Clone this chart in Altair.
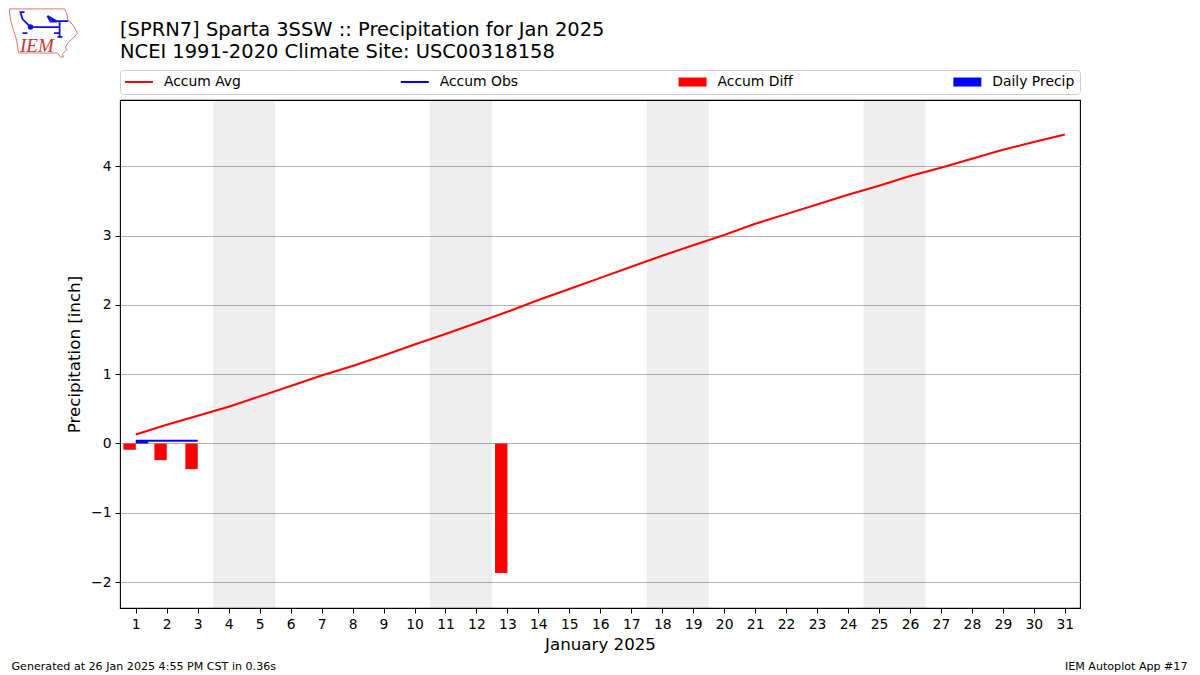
import altair as alt
import pandas as pd

FONT = "DejaVu Sans"
TITLE = ["[SPRN7] Sparta 3SSW :: Precipitation for Jan 2025", "NCEI 1991-2020 Climate Site: USC00318158"]
FOOT_LEFT = ["Generated at 26 Jan 2025 4:55 PM CST in 0.36s"]
FOOT_RIGHT = ["IEM Autoplot App #17"]
LOGO_TEXT = ["IEM"]

days = list(range(1, 32))
accum_avg = [0.13, 0.27, 0.40, 0.53, 0.68, 0.83, 0.98, 1.12, 1.27, 1.43, 1.58,
             1.74, 1.90, 2.07, 2.23, 2.39, 2.55, 2.71, 2.86, 3.01, 3.17, 3.31,
             3.45, 3.59, 3.72, 3.86, 3.98, 4.11, 4.24, 4.35, 4.46]
obs_days = [1, 2, 3]
accum_obs = [0.04, 0.04, 0.04]
diff_days = [1, 2, 3, 13]
accum_diff = [-0.09, -0.24, -0.37, -1.87]
precip_days = [1]
daily_precip = [0.04]
band_start = [3.5, 10.5, 17.5, 24.5]
band_end = [5.5, 12.5, 19.5, 26.5]
series = ["Accum Avg", "Accum Obs", "Accum Diff", "Daily Precip"]
series_colors = ["#ff0000", "#0000ff", "#ff0000", "#0000ff"]
# legend keys: long thin dash for lines, wider block for bars
line_key = "M-1.4,-0.2H4.2V0.2H-1.4Z"
bar_key = "M-1.4,-0.9H4.2V0.9H-1.4Z"
series_keys = [line_key, line_key, bar_key, bar_key]

BAR_W = 0.4
x_scale = alt.Scale(domain=[0.49, 31.49], nice=False, zero=False)
y_scale = alt.Scale(domain=[-2.374, 4.957], nice=False, zero=False)

x_axis = alt.Axis(values=days, format="d", grid=False, title="January 2025", labelFlush=False,
                  titleFontSize=16.67, titlePadding=6)
y_axis = alt.Axis(values=[-2, -1, 0, 1, 2, 3, 4], grid=True, title="Precipitation [inch]",
                  labelExpr="replace(datum.label, '-', '\u2212')",
                  titleFontSize=16.67, titlePadding=7)
X = alt.X("day:Q", scale=x_scale, axis=x_axis)
Y = alt.Y("value:Q", scale=y_scale, axis=y_axis)

bands = alt.Chart(pd.DataFrame({"start": band_start, "end": band_end})).mark_rect(
    color="#000000", opacity=0.067
).encode(x=alt.X("start:Q", scale=x_scale, axis=x_axis), x2="end:Q")

avg = alt.Chart(pd.DataFrame({"day": days, "value": accum_avg})).mark_line(
    color="#ff0000", strokeWidth=2.08).encode(x=X, y=Y)
obs = alt.Chart(pd.DataFrame({"day": obs_days, "value": accum_obs})).mark_line(
    color="#0000ff", strokeWidth=2.08).encode(x=X, y=Y)
diff = alt.Chart(pd.DataFrame({"day": diff_days, "value": accum_diff})).transform_calculate(
    left=f"datum.day - {BAR_W}", zero="0"
).mark_rect(color="#ff0000").encode(
    x=alt.X("left:Q", scale=x_scale, axis=x_axis), x2="day:Q", y=Y, y2="zero:Q")
precip = alt.Chart(pd.DataFrame({"day": precip_days, "value": daily_precip})).transform_calculate(
    right=f"datum.day + {BAR_W}", zero="0"
).mark_rect(color="#0000ff").encode(
    x=alt.X("day:Q", scale=x_scale, axis=x_axis), x2="right:Q", y=Y, y2="zero:Q")

legend = alt.Legend(
    title=None, orient="none", legendX=0, legendY=-30, columns=4, direction="horizontal",
    columnPadding=158.8, padding=5, fillColor="#ffffff", strokeColor="#cccccc", cornerRadius=3,
    labelFont=FONT, labelFontSize=13.9, labelColor="#000000", labelOffset=25, symbolStrokeWidth=0,
    symbolOpacity=1, rowPadding=0,
)
legend_layer = alt.Chart(pd.DataFrame({"series": series, "day": [None] * 4, "value": [None] * 4})).mark_point(
    filled=True, size=100, opacity=1
).encode(
    x=X, y=Y,
    color=alt.Color("series:N", sort=series, legend=legend,
                    scale=alt.Scale(domain=series, range=series_colors)),
    shape=alt.Shape("series:N", sort=series, legend=legend,
                    scale=alt.Scale(domain=series, range=series_keys)),
)

foot_l = alt.Chart(pd.DataFrame({"t": FOOT_LEFT})).mark_text(
    font=FONT, fontSize=11.1, align="left", baseline="alphabetic", color="#000000"
).encode(text="t:N", x=alt.value(-108.5), y=alt.value(570))
foot_r = alt.Chart(pd.DataFrame({"t": FOOT_RIGHT})).mark_text(
    font=FONT, fontSize=11.1, align="right", baseline="alphabetic", color="#000000"
).encode(text="t:N", x=alt.value(1067.5), y=alt.value(570))

# small logo: state outline, station glyph and wordmark, placed in the top-left corner
iowa = "M-0.97,-0.66L0.6,-0.66L0.66,-0.54L0.69,-0.37L0.86,-0.17L0.97,0.03L0.86,0.17L0.71,0.29L0.63,0.43L0.66,0.51L0.54,0.63L0.57,0.71L0.49,0.72L0.4,0.6L-0.71,0.6L-0.77,0.23L-0.86,-0.06L-0.94,-0.34L-0.97,-0.57Z"
glyph = "M-0.37,-0.14H0.46M-0.37,-0.14L-0.6,-0.37L-0.66,-0.57H-0.54M0.11,-0.46L0.37,-0.31H0.71M0.11,-0.46L0.32,-0.3L0.2,-0.3ZM0.46,-0.31V0.17M0.3,0.03H0.46M0.4,0.14H0.54M-0.6,0.03H-0.46"
logo_outline = alt.Chart(pd.DataFrame({"k": [0]})).mark_point(
    shape=iowa, size=4900, filled=False, stroke="#dd7777", strokeWidth=1, opacity=1
).encode(x=alt.value(-76.5), y=alt.value(-68))
logo_glyph = alt.Chart(pd.DataFrame({"k": [0]})).mark_point(
    shape=glyph, size=4900, filled=False, stroke="#1111dd", strokeWidth=1.8, opacity=1
).encode(x=alt.value(-76.5), y=alt.value(-68))
logo_dot = alt.Chart(pd.DataFrame({"k": [0]})).mark_circle(color="#1111dd", size=30, opacity=1).encode(
    x=alt.value(-89.5), y=alt.value(-73))
logo_text = alt.Chart(pd.DataFrame({"t": LOGO_TEXT})).mark_text(
    font="Liberation Serif", fontStyle="italic", fontSize=19, align="left", baseline="alphabetic", color="#cc3333"
).encode(text="t:N", x=alt.value(-100), y=alt.value(-48))

chart = alt.layer(
    bands, avg, obs, diff, precip, legend_layer, foot_l, foot_r,
    logo_outline, logo_glyph, logo_dot, logo_text,
).resolve_scale(x="shared", y="shared").properties(
    width=960, height=508,
    padding={"left": 112, "top": 92, "right": 112, "bottom": 66},
    autosize=alt.AutoSizeParams(type="none"),
    background="#ffffff",
    title=alt.TitleParams(
        text=TITLE, anchor="start", frame="group", font=FONT, fontSize=19.47, fontWeight="normal",
        color="#000000", lineHeight=22, offset=0, dy=56,
    ),
).configure_view(stroke="#000000", strokeWidth=1.1).configure_axis(
    labelFont=FONT, titleFont=FONT, labelFontSize=13.9, labelColor="#000000", titleColor="#000000",
    titleFontWeight="normal", domainColor="#000000", tickColor="#000000", tickSize=5, tickWidth=1,
    labelPadding=4, gridColor="#b0b0b0", gridWidth=1, domain=False,
)

chart.save("out.html", embed_options={"renderer": "svg", "actions": False})
